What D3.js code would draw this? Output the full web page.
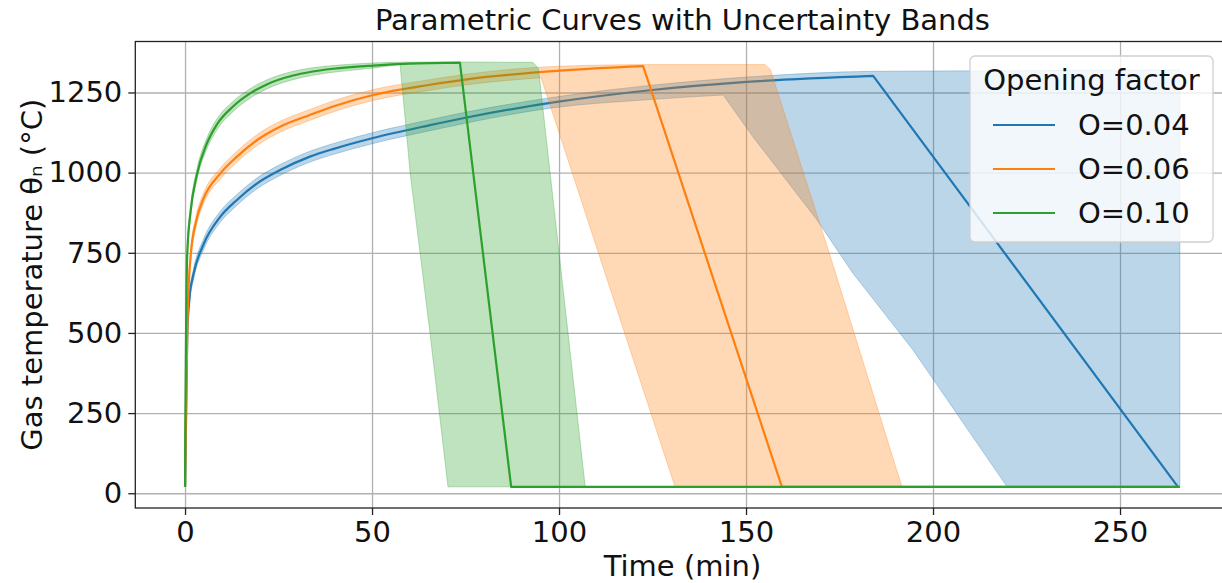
<!DOCTYPE html>
<html>
<head>
<meta charset="utf-8">
<script src="https://cdn.jsdelivr.net/npm/d3@7"></script>
<style>
  body { margin: 0; background: #fff; }
  text { font-family: "DejaVu Sans", sans-serif; }
</style>
</head>
<body>
<script>
// ---- data: [time (min), temperature (°C)] ----
var labels = ["O=0.04", "O=0.06", "O=0.10"];

var blueLine = [[0,20],[0.3,250],[0.6,500],[1.2,610],[2.2,680],[4.9,775],[9.4,862],[13.8,914],
  [19.2,966],[25.4,1008],[33.4,1050],[40,1075],[50.3,1108],[65.5,1148],[75.3,1172],[100.3,1222],
  [124.3,1257],[150.2,1283],[184,1302],[265.5,20]];
var blueUpper = [[0,20],[0.3,275],[0.6,525],[1.2,628],[2.2,697],[4.9,792],[9.4,879],[13.8,931],
  [19.2,983],[25.4,1025],[33.4,1067],[40,1092],[50.3,1125],[65.5,1165],[75.3,1189],[100.3,1238],
  [124.3,1272],[150.2,1298],[184,1316],[220,1318],[266,1320]];
var blueLower = [[0,20],[0.3,225],[0.6,475],[1.2,592],[2.2,663],[4.9,758],[9.4,845],[13.8,897],
  [19.2,949],[25.4,991],[33.4,1033],[40,1058],[50.3,1091],[65.5,1131],[75.3,1155],[97.6,1201],
  [124.3,1228],[143.9,1242],[151.9,1111],[169,852],[178.6,686],[194.7,446],[219.8,20],[266,20]];

var orangeLine = [[0,20],[0.3,300],[0.7,560],[1.5,740],[3,850],[4.9,918],[9.4,997],[13.8,1049],
  [19.2,1101],[25.4,1143],[33.4,1180],[40,1208],[50.3,1242],[65.5,1274],[75.3,1291],[100.3,1318],
  [122.5,1332],[159.6,20],[266,20]];
var orangeUpper = [[0,20],[0.3,325],[0.7,585],[1.5,760],[3,868],[4.9,935],[9.4,1014],[13.8,1066],
  [19.2,1118],[25.4,1160],[33.4,1197],[40,1225],[50.3,1259],[65.5,1290],[75.3,1307],[100.3,1332],
  [122.5,1337],[155,1337],[156.5,1322],[172.5,740],[191.7,20],[266,20]];
var orangeLower = [[0,20],[0.3,275],[0.7,535],[1.5,720],[3,832],[4.9,901],[9.4,980],[13.8,1032],
  [19.2,1084],[25.4,1126],[33.4,1163],[40,1191],[50.3,1225],[65.5,1257],[75.3,1274],[95.2,1296],
  [131,20],[266,20]];

var greenLine = [[0,20],[0.1,250],[0.27,500],[0.6,749],[1.5,880],[3.1,990],[5.8,1090],[8.5,1150],
  [12.9,1207],[17.4,1247],[22,1276],[28.9,1303],[33.4,1314],[39.6,1324],[50.3,1334],[60,1340],
  [73.5,1343],[87.2,20],[266,20]];
var greenUpper = [[0,20],[0.1,290],[0.27,540],[0.6,775],[1.5,898],[3.1,1007],[5.8,1107],[8.5,1167],
  [12.9,1223],[17.4,1262],[22,1290],[28.9,1316],[33.4,1326],[39.6,1334],[50.3,1342],[60,1345],
  [73.5,1345],[93,1344],[94.5,1325],[107,20],[266,20]];
var greenLower = [[0,20],[0.1,210],[0.27,460],[0.6,723],[1.5,862],[3.1,973],[5.8,1073],[8.5,1133],
  [12.9,1191],[17.4,1232],[22,1262],[28.9,1290],[33.4,1302],[39.6,1313],[50.3,1326],[57.5,1337],
  [60.2,998],[65.5,499],[70.3,20],[266,20]];

var xTicks = [0, 50, 100, 150, 200, 250];
var yTicks = [0, 250, 500, 750, 1000, 1250];

var colors = ["#1f77b4", "#ff7f0e", "#2ca02c"];

var series = [
  {label: labels[0], line: blueLine, upper: blueUpper, lower: blueLower, color: colors[0]},
  {label: labels[1], line: orangeLine, upper: orangeUpper, lower: orangeLower, color: colors[1]},
  {label: labels[2], line: greenLine, upper: greenUpper, lower: greenLower, color: colors[2]}
];

// ---- layout ----
var margin = {top: 41.5, left: 135.3},
    width = 1094.3,
    height = 466.5,
    fs = 29;

var svg = d3.select("body").append("svg")
    .attr("width", 1222)
    .attr("height", 583);

var g = svg.append("g")
    .attr("transform", "translate(" + margin.left + "," + margin.top + ")");

var x = d3.scaleLinear().domain([-13.3, 279.3]).range([0, width]),
    y = d3.scaleLinear().domain([-46, 1409]).range([height, 0]);

// gridlines
g.append("g")
    .attr("transform", "translate(0," + height + ")")
    .call(d3.axisBottom(x).tickValues(xTicks).tickSize(-height).tickFormat(""))
    .call(function(s) {
      s.select(".domain").remove();
      s.selectAll("line").attr("stroke", "#b0b0b0").attr("stroke-width", 1.3);
    });
g.append("g")
    .call(d3.axisLeft(y).tickValues(yTicks).tickSize(-width).tickFormat(""))
    .call(function(s) {
      s.select(".domain").remove();
      s.selectAll("line").attr("stroke", "#b0b0b0").attr("stroke-width", 1.3);
    });

g.append("clipPath").attr("id", "plot-clip")
  .append("rect").attr("width", width).attr("height", height);

var plot = g.append("g").attr("clip-path", "url(#plot-clip)");

// smooth heating part (up to the highest point), straight lines after it
var smooth = d3.line()
    .curve(d3.curveMonotoneX)
    .x(function(d) { return x(d[0]); })
    .y(function(d) { return y(d[1]); });
var straight = d3.line()
    .x(function(d) { return x(d[0]); })
    .y(function(d) { return y(d[1]); });

function peakIndex(pts) {
  return d3.maxIndex(pts, function(d) { return d[1]; });
}

// forward path: curve then straight
function pathForward(pts) {
  var k = peakIndex(pts);
  var a = smooth(pts.slice(0, k + 1));
  if (k >= pts.length - 1) return a;
  return a + straight(pts.slice(k)).replace(/^M/, "L");
}

// backward path: straight then curve (for the lower edge of a band)
function pathBackward(pts) {
  var k = peakIndex(pts);
  var rest = pts.slice(k).reverse(),
      heat = pts.slice(0, k + 1).reverse();
  var a = rest.length > 1 ? straight(rest) : "M" + x(rest[0][0]) + "," + y(rest[0][1]);
  return a + smooth(heat).replace(/^M/, "L");
}

// bands and lines, one series after another
series.forEach(function(s) {
  plot.append("path")
      .attr("d", pathForward(s.upper) + pathBackward(s.lower).replace(/^M/, "L") + "Z")
      .attr("fill", s.color)
      .attr("fill-opacity", 0.3)
      .attr("stroke", s.color)
      .attr("stroke-opacity", 0.3)
      .attr("stroke-width", 1);
  plot.append("path")
      .attr("d", pathForward(s.line))
      .attr("fill", "none")
      .attr("stroke", s.color)
      .attr("stroke-width", 2.2)
      .attr("stroke-linejoin", "round");
});

// axes
var xAxis = g.append("g")
    .attr("transform", "translate(0," + height + ")")
    .call(d3.axisBottom(x).tickValues(xTicks).tickSize(7).tickPadding(6).tickSizeOuter(0)
      .tickFormat(d3.format("d")));
var yAxis = g.append("g")
    .call(d3.axisLeft(y).tickValues(yTicks).tickSize(7).tickPadding(6).tickSizeOuter(0)
      .tickFormat(d3.format("d")));
[xAxis, yAxis].forEach(function(a) {
  a.select(".domain").remove();
  a.selectAll("line").attr("stroke", "#222").attr("stroke-width", 1.3);
  a.selectAll("text").attr("fill", "#111")
      .style("font-size", fs + "px").style("font-family", "'DejaVu Sans', sans-serif");
});

// frame
g.append("rect")
    .attr("width", width).attr("height", height)
    .attr("fill", "none").attr("stroke", "#222").attr("stroke-width", 1.3);

// title and axis labels
svg.append("text")
    .attr("x", margin.left + width / 2).attr("y", 30)
    .attr("text-anchor", "middle")
    .style("font-size", fs + "px").attr("fill", "#111")
    .text("Parametric Curves with Uncertainty Bands");

svg.append("text")
    .attr("x", margin.left + width / 2).attr("y", 576)
    .attr("text-anchor", "middle")
    .style("font-size", fs + "px").attr("fill", "#111")
    .text("Time (min)");

svg.append("text")
    .attr("transform", "translate(42," + (margin.top + height / 2) + ")rotate(-90)")
    .attr("text-anchor", "middle")
    .style("font-size", fs + "px").attr("fill", "#111")
    .text("Gas temperature θₙ (°C)");

// legend
var legend = svg.append("g").attr("transform", "translate(970,56)");
legend.append("rect")
    .attr("width", 243).attr("height", 186)
    .attr("rx", 5)
    .attr("fill", "#fff").attr("fill-opacity", 0.8)
    .attr("stroke", "#d0d0d0").attr("stroke-width", 1.3);
legend.append("text")
    .attr("x", 121.5).attr("y", 34)
    .attr("text-anchor", "middle")
    .style("font-size", fs + "px").attr("fill", "#111")
    .text("Opening factor");
series.forEach(function(s, i) {
  var ly = 69 + i * 44;
  legend.append("line")
      .attr("x1", 23).attr("x2", 85)
      .attr("y1", ly).attr("y2", ly)
      .attr("stroke", s.color).attr("stroke-width", 2.2);
  legend.append("text")
      .attr("x", 108).attr("y", ly + 10)
      .style("font-size", fs + "px").attr("fill", "#111")
      .text(s.label);
});
</script>
</body>
</html>
